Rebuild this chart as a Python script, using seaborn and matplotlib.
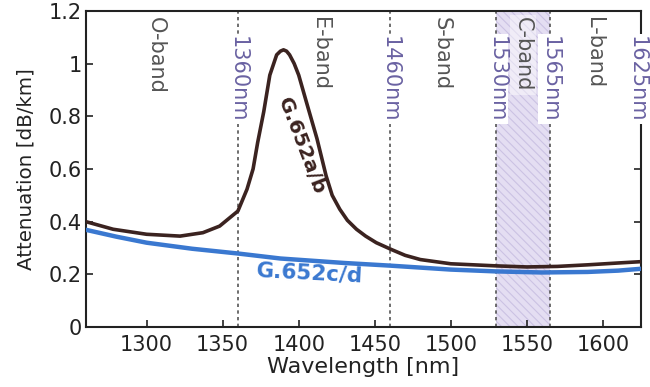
import numpy as np
import pandas as pd
import matplotlib
matplotlib.use("Agg")
import matplotlib.pyplot as plt
import seaborn as sns

# Data
wl_ab = [1260, 1278, 1300, 1322, 1337, 1348, 1360, 1366, 1370, 1373, 1377, 1381, 1385.5, 1388,
         1390, 1392, 1394, 1397, 1400, 1405, 1408.5, 1412, 1418, 1422, 1427, 1432, 1438, 1444,
         1451, 1461, 1470, 1480, 1500, 1530, 1550, 1570, 1590, 1610, 1625]
att_ab = [0.400, 0.371, 0.352, 0.345, 0.358, 0.383, 0.44, 0.523, 0.60, 0.70, 0.817, 0.956, 1.033, 1.047,
          1.052, 1.047, 1.033, 1.0, 0.956, 0.855, 0.785, 0.715, 0.574, 0.50, 0.447, 0.405, 0.371, 0.345,
          0.32, 0.294, 0.272, 0.256, 0.240, 0.232, 0.228, 0.230, 0.236, 0.243, 0.248]
wl_cd = [1260, 1280, 1300, 1330, 1360, 1388, 1430, 1460, 1500, 1530, 1560, 1590, 1610, 1625]
att_cd = [0.369, 0.343, 0.320, 0.297, 0.279, 0.260, 0.243, 0.233, 0.218, 0.211, 0.207, 0.209, 0.214, 0.221]

band_names = ["O-band", "E-band", "S-band", "C-band", "L-band"]
band_centers = [1306, 1414, 1494, 1547.5, 1594]
edges = [1360, 1460, 1530, 1565]
edge_labels = ["1360nm", "1460nm", "1530nm", "1565nm", "1625nm"]
edge_label_pos = [1360, 1460, 1530, 1565, 1622.5]

xticks = [1300, 1350, 1400, 1450, 1500, 1550, 1600]
yticks = [0, 0.2, 0.4, 0.6, 0.8, 1.0, 1.2]
yticklabels = ["0", "0.2", "0.4", "0.6", "0.8", "1", "1.2"]

sns.set_style("ticks")
plt.rcParams['font.family'] = ['DejaVu Sans']
plt.rcParams['hatch.linewidth'] = 0.8

fig = plt.figure(figsize=(6.5, 3.87), dpi=100)
ax = fig.add_axes([0.132, 0.155, 0.854, 0.817])

brown = "#3b2320"
blue = "#3a78d0"
purple = "#6a62a2"
gray = "#555555"

# shaded C-band
ax.axvspan(1530, 1565, facecolor="#e4def2", edgecolor="#cbc2e3", hatch="\\\\\\\\", linewidth=0, zorder=0)

for e in edges:
    ax.axvline(e, color="#555555", linestyle=(0, (2, 2)), linewidth=1.2, zorder=1)

df_ab = pd.DataFrame({"wl": wl_ab, "att": att_ab})
df_cd = pd.DataFrame({"wl": wl_cd, "att": att_cd})
sns.lineplot(data=df_cd, x="wl", y="att", ax=ax, color=blue, linewidth=3.2, zorder=3,
             solid_capstyle="round", solid_joinstyle="round")
sns.lineplot(data=df_ab, x="wl", y="att", ax=ax, color=brown, linewidth=2.6, zorder=4,
             solid_capstyle="round", solid_joinstyle="round")

ax.set_xlim(1260, 1625)
ax.set_ylim(0, 1.2)
ax.set_xticks(xticks)
ax.set_yticks(yticks)
ax.set_yticklabels(yticklabels)
ax.tick_params(axis="both", direction="in", length=5, width=1.2, labelsize=15, colors="#222222")
ax.tick_params(axis="y", right=True, labelright=False, pad=3)
ax.tick_params(axis="x", pad=6)
for s in ax.spines.values():
    s.set_linewidth(1.5)
    s.set_color("#222222")
ax.set_xlabel("Wavelength [nm]", fontsize=16, labelpad=1, color="#222222")
ax.set_ylabel("Attenuation [dB/km]", fontsize=14.3, labelpad=9, color="#222222")

for name, c in zip(band_names, band_centers):
    kw = {}
    if name == "C-band":
        kw = dict(bbox=dict(facecolor="white", edgecolor="none", alpha=0.45, pad=2))
    ax.text(c, 1.175, name, rotation=-90, ha="center", va="top", fontsize=15, color=gray, zorder=5, **kw)

for lab, p in zip(edge_labels, edge_label_pos):
    ax.text(p, 1.105, lab, rotation=-90, ha="center", va="top", fontsize=15, color=purple, zorder=5,
            bbox=dict(facecolor="white", edgecolor="none", pad=1), clip_on=False)

ax.text(1401.5, 0.69, "G.652a/b", rotation=-69, ha="center", va="center", fontsize=14.5,
        fontweight="bold", color=brown, zorder=6)
ax.text(1407, 0.203, "G.652c/d", rotation=-3, ha="center", va="center", fontsize=15.5,
        fontweight="bold", color=blue, zorder=6)

fig.savefig("out.png", dpi=100)
